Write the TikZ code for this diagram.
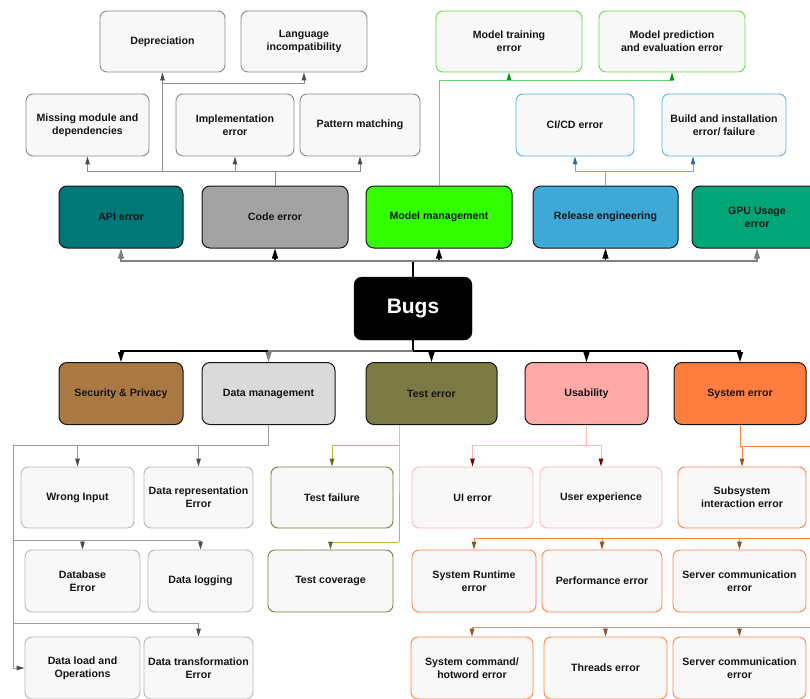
\documentclass[tikz,border=0pt]{standalone}
\usepackage{fontspec}
\setmainfont{Liberation Sans}
\usetikzlibrary{arrows.meta}
\definecolor{boxfill}{HTML}{F8F8F8}
\definecolor{topgray}{HTML}{8A8A8A}
\definecolor{codeln}{HTML}{8C8C8C}
\definecolor{mmgreen}{HTML}{66DD44}
\definecolor{mmln}{HTML}{66D466}
\definecolor{relblue}{HTML}{5AB4DE}
\definecolor{dmgray}{HTML}{B8B8B8}
\definecolor{testbox}{HTML}{7E7E3A}
\definecolor{testln}{HTML}{B8B84A}
\definecolor{usabpink}{HTML}{FFB8B8}
\definecolor{sysorange}{HTML}{FF8444}
\definecolor{apifill}{HTML}{007878}
\definecolor{codefill}{HTML}{A3A3A3}
\definecolor{mmfill}{HTML}{33FF00}
\definecolor{relfill}{HTML}{3EA9D6}
\definecolor{gpufill}{HTML}{00A677}
\definecolor{secfill}{HTML}{A97843}
\definecolor{dmfill}{HTML}{DADADA}
\definecolor{testfill}{HTML}{7A7A42}
\definecolor{usabfill}{HTML}{FFAAA6}
\definecolor{sysfill}{HTML}{FF7D3F}
\definecolor{textdark}{HTML}{151515}

\begin{document}
\begin{tikzpicture}[x=1pt,y=-1pt,
  font=\bfseries\fontsize{10.6}{13}\selectfont,
  leaf/.style={draw=#1, fill=boxfill, rounded corners=7pt, align=center,
    inner sep=2pt, line width=0.9pt, text=textdark},
  cat/.style={draw=textdark, fill=#1, rounded corners=8pt, align=center,
    minimum height=62pt, line width=1pt, text=textdark},
  arrowhd/.style={-{Triangle[width=4.5pt,length=8pt,color=#1]}},
  bushd/.style={-{Triangle[width=6pt,length=10pt]}, line width=1.2pt}]

\path[fill=white, use as bounding box] (0,0) rectangle (810,698);

% top leaves
\node[leaf=topgray, minimum width=125pt, minimum height=61pt] (dep) at (162.5,41.5) {Depreciation};
\node[leaf=topgray, minimum width=126pt, minimum height=61pt] (lang) at (304,41.5) {Language\\incompatibility};
\node[leaf=mmgreen, minimum width=146pt, minimum height=61pt] (mtrain) at (509,41.5) {Model training\\error};
\node[leaf=mmgreen, minimum width=146pt, minimum height=61pt] (mpred) at (672,41.5) {Model prediction\\and evaluation error};

\node[leaf=topgray, minimum width=123pt, minimum height=62pt] (miss) at (87.5,125) {Missing module and\\dependencies};
\node[leaf=topgray, minimum width=118pt, minimum height=62pt] (impl) at (235,125) {Implementation\\error};
\node[leaf=topgray, minimum width=120pt, minimum height=62pt] (patt) at (360,125) {Pattern matching};
\node[leaf=relblue, minimum width=118pt, minimum height=62pt] (cicd) at (575,125) {CI/CD error};
\node[leaf=relblue, minimum width=124pt, minimum height=62pt] (build) at (724,125) {Build and installation\\error/ failure};

% categories
\node[cat=apifill, minimum width=124pt] (api) at (121,217) {API error};
\node[cat=codefill, minimum width=146pt] (code) at (275,217) {Code error};
\node[cat=mmfill, minimum width=146pt] (mm) at (439,217) {Model management};
\node[cat=relfill, minimum width=145pt] (rel) at (605.5,217) {Release engineering};
\node[cat=gpufill, minimum width=130pt] (gpu) at (757,217) {GPU Usage\\error};

\node[draw=black, fill=black, rounded corners=8pt, minimum width=118pt, minimum height=63pt,
  text=white, font=\bfseries\fontsize{21}{25}\selectfont] (bugs) at (413,308.5) {Bugs};

\node[cat=secfill, minimum width=124pt] (sec) at (121,393.5) {Security \& Privacy};
\node[cat=dmfill, minimum width=133pt] (dm) at (268.5,393.5) {Data management};
\node[cat=testfill, minimum width=131pt] (test) at (431.5,393.5) {Test error};
\node[cat=usabfill, minimum width=123pt] (usab) at (586.5,393.5) {Usability};
\node[cat=sysfill, minimum width=132pt] (sys) at (740,393.5) {System error};

% bottom leaves
\node[leaf=dmgray, minimum width=113pt, minimum height=61pt] (wrong) at (77.5,497.5) {Wrong Input};
\node[leaf=dmgray, minimum width=109pt, minimum height=61pt] (drep) at (198.5,497.5) {Data representation\\Error};
\node[leaf=testbox, minimum width=122pt, minimum height=61pt] (tfail) at (332,497.5) {Test failure};
\node[leaf=usabpink, minimum width=121pt, minimum height=61pt] (ui) at (472.5,497.5) {UI error};
\node[leaf=usabpink, minimum width=122pt, minimum height=61pt] (ux) at (601,497.5) {User experience};
\node[leaf=sysorange, minimum width=128pt, minimum height=61pt] (subsys) at (742,497.5) {Subsystem\\interaction error};

\node[leaf=dmgray, minimum width=115pt, minimum height=62pt] (dberr) at (82.5,581) {Database\\Error};
\node[leaf=dmgray, minimum width=105pt, minimum height=62pt] (dlog) at (200.5,581) {Data logging};
\node[leaf=testbox, minimum width=125pt, minimum height=62pt] (tcov) at (330.5,581) {Test coverage};
\node[leaf=sysorange, minimum width=124pt, minimum height=62pt] (runtime) at (474,581) {System Runtime\\error};
\node[leaf=sysorange, minimum width=120pt, minimum height=62pt] (perf) at (602,581) {Performance error};
\node[leaf=sysorange, minimum width=133pt, minimum height=62pt] (serva) at (739.5,581) {Server communication\\error};

\node[leaf=dmgray, minimum width=115pt, minimum height=62pt] (dload) at (82.5,668) {Data load and\\Operations};
\node[leaf=dmgray, minimum width=109pt, minimum height=62pt] (dtrans) at (198.5,668) {Data transformation\\Error};
\node[leaf=sysorange, minimum width=122pt, minimum height=62pt] (cmd) at (472,668) {System command/\\hotword error};
\node[leaf=sysorange, minimum width=123pt, minimum height=62pt] (threads) at (605.5,668) {Threads error};
\node[leaf=sysorange, minimum width=133pt, minimum height=62pt] (servb) at (739.5,668) {Server communication\\error};

% junctions
\coordinate (tbus) at (413,261);
\coordinate (bbus) at (413,351);
\coordinate (cbus) at (275,171);
\coordinate (dbus) at (162.5,84);
\coordinate (mbus) at (439,81);
\coordinate (rbus) at (605.5,171);
\coordinate (dmbus) at (268.5,445);
\coordinate (dleft) at (13,445);
\coordinate (dmrowa) at (13,540);
\coordinate (dmrowb) at (13,623);
\coordinate (tj) at (399,445);
\coordinate (tk) at (399,542);
\coordinate (uj) at (586.5,445);
\coordinate (sj) at (740,446);
\coordinate (sedge) at (820,446);
\coordinate (srowa) at (820,538);
\coordinate (srowb) at (820,627);

% main buses
\draw[line width=1.2pt] (bugs.north) -- (tbus);
\foreach \n/\c in {code/black, mm/black, rel/black, api/gray, gpu/gray}
  \draw[bushd, draw=\c] (tbus) -| (\n.south);
\draw[line width=1.2pt] (bugs.south) -- (bbus);
\foreach \n/\c in {sec/black, test/black, usab/black, sys/black, dm/gray}
  \draw[bushd, draw=\c] (bbus) -| (\n.north);

% code error
\draw[codeln, line width=1pt] (code.north) -- (cbus);
\draw[codeln, line width=1pt, arrowhd=black!70] (cbus) -| (impl.south);
\draw[codeln, line width=1pt, arrowhd=black!70] (cbus) -| (miss.south);
\draw[codeln, line width=1pt, arrowhd=black!70] (cbus) -| (patt.south);
\draw[codeln, line width=1pt, arrowhd=black!70] (dep.south |- cbus) -- (dep.south);
\draw[codeln, line width=1pt, arrowhd=black!70] (dbus) -| (lang.south);

% model management
\draw[mmln, line width=1pt] (mm.north) -- (mbus);
\draw[mmln, line width=1pt, arrowhd=green!60!black] (mbus) -| (mtrain.south);
\draw[mmln, line width=1pt, arrowhd=green!60!black] (mbus) -| (mpred.south);

% release engineering
\draw[relblue, line width=1pt] (rel.north) -- (rbus);
\draw[relblue, line width=1pt, arrowhd=relblue!60!black] (rbus) -| (cicd.south);
\draw[relblue, line width=1pt, arrowhd=relblue!60!black] (rbus) -| ([xshift=-31pt]build.south);

% data management
\draw[dmgray!85!black, line width=1pt] (dm.south) -- (dmbus) -- (dleft);
\draw[dmgray!85!black, line width=1pt, arrowhd=black!70] (dleft) |- (dload.west);
\draw[dmgray!85!black, line width=1pt, arrowhd=black!70] (wrong.north |- dmbus) -- (wrong.north);
\draw[dmgray!85!black, line width=1pt, arrowhd=black!70] (drep.north |- dmbus) -- (drep.north);
\draw[dmgray!85!black, line width=1pt, arrowhd=black!70] (dmrowa) -| (dlog.north);
\draw[dmgray!85!black, line width=1pt, arrowhd=black!70] (dberr.north |- dmrowa) -- (dberr.north);
\draw[dmgray!85!black, line width=1pt, arrowhd=black!70] (dmrowb) -| (dtrans.north);

% test error
\draw[testln, line width=1pt] (tj |- test.south) -- (tj) -- (tk);
\draw[testln, line width=1pt, arrowhd=testbox!80!black] (tj) -| (tfail.north);
\draw[testln, line width=1pt, arrowhd=testbox!80!black] (tk) -| (tcov.north);

% usability
\draw[usabpink, line width=1pt] (usab.south) -- (uj);
\draw[usabpink, line width=1pt, arrowhd=red!45!black] (uj) -| (ui.north);
\draw[usabpink, line width=1pt, arrowhd=red!45!black] (uj) -| (ux.north);

% system error
\draw[sysorange, line width=1pt] (sys.south) -- (sj) -- (sedge) -- (srowb);
\draw[sysorange, line width=1pt, arrowhd=sysorange!60!black] (subsys.north |- sj) -- (subsys.north);
\foreach \n in {runtime, perf, serva}
  \draw[sysorange, line width=1pt, arrowhd=sysorange!60!black] (srowa) -| (\n.north);
\foreach \n in {cmd, threads, servb}
  \draw[sysorange, line width=1pt, arrowhd=sysorange!60!black] (srowb) -| (\n.north);
\end{tikzpicture}
\end{document}
